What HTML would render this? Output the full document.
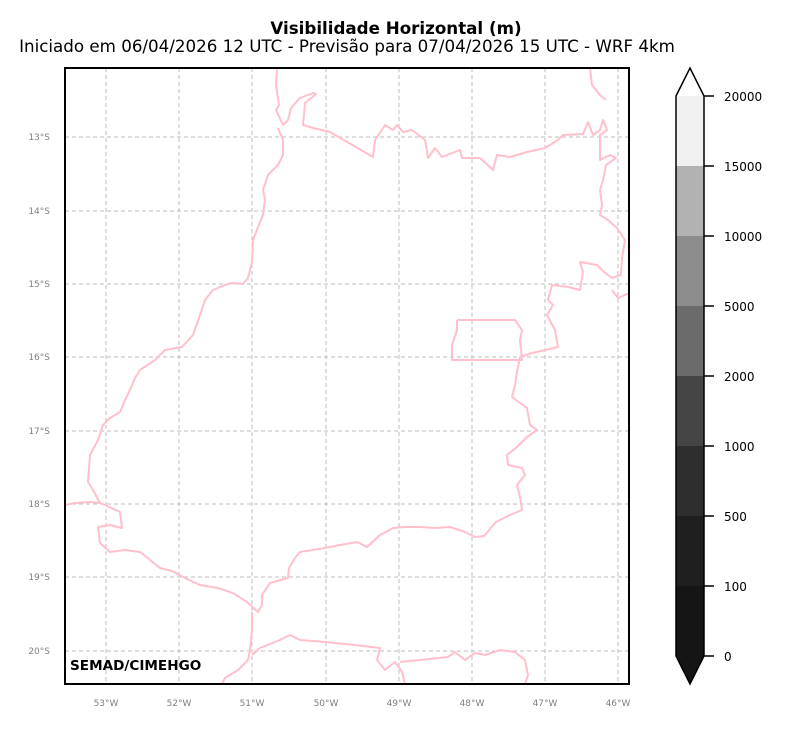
<!DOCTYPE html>
<html><head><meta charset="utf-8"><style>
html,body{margin:0;padding:0;background:#fff;}
body{width:787px;height:728px;overflow:hidden;font-family:"Liberation Sans","DejaVu Sans",sans-serif;}
</style></head><body>
<svg width="787" height="728" xmlns="http://www.w3.org/2000/svg" font-family="DejaVu Sans, Liberation Sans, sans-serif">
<text x="396" y="34" font-size="16.7" font-weight="bold" text-anchor="middle">Visibilidade Horizontal (m)</text>
<text x="347" y="52" font-size="16.7" text-anchor="middle">Iniciado em 06/04/2026 12 UTC - Previsão para 07/04/2026 15 UTC - WRF 4km</text>
<defs><clipPath id="c"><rect x="65" y="68" width="564" height="616"/></clipPath></defs>
<g stroke="#bdbdbd" stroke-width="1" stroke-dasharray="4,3">
<line x1="106" y1="68" x2="106" y2="684"/><line x1="179" y1="68" x2="179" y2="684"/><line x1="252" y1="68" x2="252" y2="684"/><line x1="326" y1="68" x2="326" y2="684"/><line x1="399" y1="68" x2="399" y2="684"/><line x1="472" y1="68" x2="472" y2="684"/><line x1="545" y1="68" x2="545" y2="684"/><line x1="618" y1="68" x2="618" y2="684"/>
<line x1="65" y1="137" x2="629" y2="137"/><line x1="65" y1="211" x2="629" y2="211"/><line x1="65" y1="284" x2="629" y2="284"/><line x1="65" y1="357" x2="629" y2="357"/><line x1="65" y1="431" x2="629" y2="431"/><line x1="65" y1="504" x2="629" y2="504"/><line x1="65" y1="577" x2="629" y2="577"/><line x1="65" y1="651" x2="629" y2="651"/>
</g>
<g clip-path="url(#c)" fill="none" stroke="#ffc0cb" stroke-width="2" stroke-linejoin="round">
<polyline points="277,68 276,85 279,105 276,110 283,125 288,120 291,108 300,98 313,93 316,94 305,103 303,125 313,128 330,132 373,157 375,140 385,125 393,130 397,125 403,132 412,130 425,140 428,158 435,148 442,157 460,150 462,158 480,158 493,170 497,155 510,157 527,152 545,148 558,140 563,135 583,134 588,122 593,135 600,130 603,120 607,130 600,135 600,150 600,160 610,155 616,158 606,165 603,180 600,190 602,205 600,215 608,220 617,228 625,240 622,258 621,275 612,278 604,272 597,265 580,262 583,272 580,290 568,287 552,285 548,300 553,305 547,315 555,330 558,347 545,350 532,353 520,357 517,372 515,385 512,397 527,408 530,425 537,430 527,437 517,447 507,455 508,465 522,468 525,475 517,485 520,497 522,510 510,515 496,522 484,536 475,537 465,532 450,527 435,528 420,527 405,527 393,528 380,535 367,547 357,542 340,545 325,548 300,552 295,558 289,568 288,578 270,583 262,595 262,605 258,612 247,602 233,593 218,588 200,585 185,578 172,571 160,568 150,560 140,552 125,550 110,552 100,543 98,527 110,525 122,528 120,512 105,505 100,503 93,490 88,482 90,455 98,440 103,425 110,418 120,412 125,400 130,390 135,378 140,370 155,360 160,355 165,350 182,347 193,335 200,315 205,300 213,290 225,285 232,283 243,284 248,278 252,262 253,240 258,227 263,215 265,200 263,190 268,175 278,165 283,155 283,140 278,128"/>
<polyline points="65,505 75,503 90,502 100,503"/>
<polyline points="590,68 592,85 600,95 606,100"/>
<polyline points="252,612 252,630 250,650 248,660 238,670 225,678 222,684"/>
<polyline points="252,655 260,648 280,640 290,635 300,640 325,642 355,645 380,648 377,660 385,670 395,662 402,672 405,684"/>
<polyline points="400,662 420,660 448,657 455,652 465,660 475,653 485,655 500,650 515,652 525,660 528,675 525,684"/>
<polyline points="457,320 515,320 522,330 520,340 522,360 452,360 452,345 457,330 457,320"/>
<polyline points="612,290 618,298 629,293"/>
</g>
<rect x="65" y="68" width="564" height="616" fill="none" stroke="#000" stroke-width="2"/>
<text x="70" y="670" font-size="13.6" font-weight="bold">SEMAD/CIMEHGO</text>
<g font-size="9" fill="#808080" text-anchor="middle">
<text x="106" y="706">53°W</text><text x="179" y="706">52°W</text><text x="252" y="706">51°W</text><text x="326" y="706">50°W</text><text x="399" y="706">49°W</text><text x="472" y="706">48°W</text><text x="545" y="706">47°W</text><text x="618" y="706">46°W</text>
</g>
<g font-size="9" fill="#808080" text-anchor="end">
<text x="50" y="140">13°S</text><text x="50" y="214">14°S</text><text x="50" y="287">15°S</text><text x="50" y="360">16°S</text><text x="50" y="434">17°S</text><text x="50" y="507">18°S</text><text x="50" y="580">19°S</text><text x="50" y="654">20°S</text>
</g>
<rect x="676" y="96" width="28" height="71" fill="#f0f0f0"/>
<rect x="676" y="166" width="28" height="71" fill="#b2b2b2"/>
<rect x="676" y="236" width="28" height="71" fill="#8c8c8c"/>
<rect x="676" y="306" width="28" height="71" fill="#6b6b6b"/>
<rect x="676" y="376" width="28" height="71" fill="#454545"/>
<rect x="676" y="446" width="28" height="71" fill="#2e2e2e"/>
<rect x="676" y="516" width="28" height="71" fill="#1f1f1f"/>
<rect x="676" y="586" width="28" height="70" fill="#151515"/>
<polygon points="676,656 704,656 690,684" fill="#151515"/>
<polygon points="676,96 690,68 704,96 704,656 690,684 676,656" fill="none" stroke="#000" stroke-width="1.5"/>
<g stroke="#000" stroke-width="1.5">
<line x1="704" y1="96" x2="714" y2="96"/><line x1="704" y1="166" x2="714" y2="166"/><line x1="704" y1="236" x2="714" y2="236"/><line x1="704" y1="306" x2="714" y2="306"/><line x1="704" y1="376" x2="714" y2="376"/><line x1="704" y1="446" x2="714" y2="446"/><line x1="704" y1="516" x2="714" y2="516"/><line x1="704" y1="586" x2="714" y2="586"/><line x1="704" y1="656" x2="714" y2="656"/>
</g>
<g font-size="12" fill="#000">
<text x="724" y="101">20000</text><text x="724" y="171">15000</text><text x="724" y="241">10000</text><text x="724" y="311">5000</text><text x="724" y="381">2000</text><text x="724" y="451">1000</text><text x="724" y="521">500</text><text x="724" y="591">100</text><text x="724" y="661">0</text>
</g>
</svg>
</body></html>
